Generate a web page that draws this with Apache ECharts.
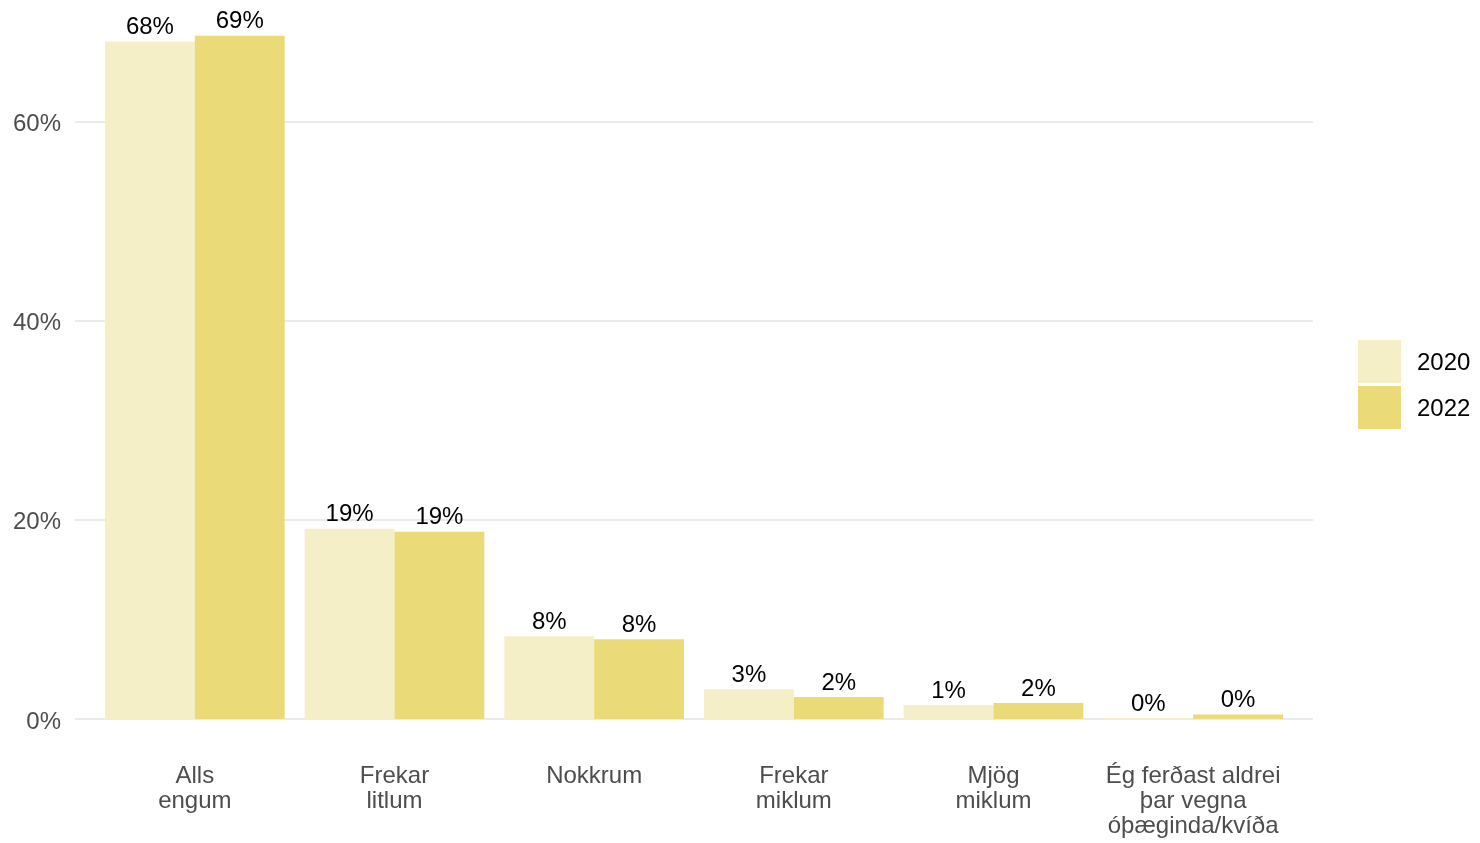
<!DOCTYPE html>
<html>
<head>
<meta charset="utf-8">
<script src="https://cdn.jsdelivr.net/npm/echarts@6/dist/echarts.min.js"></script>
<style>html,body{margin:0;padding:0;background:#fff;}#c{width:1480px;height:843px;}</style>
</head>
<body>
<div id="c"></div>
<script>
const categories = ['Alls\nengum', 'Frekar\nlitlum', 'Nokkrum', 'Frekar\nmiklum', 'Mjög\nmiklum', 'Ég ferðast aldrei\nþar vegna\nóþæginda/kvíða'];
const seriesNames = ['2020', '2022'];
const values2020 = [68.0, 19.1, 8.3, 3.0, 1.4, 0.1];
const values2022 = [68.6, 18.8, 8.0, 2.2, 1.6, 0.45];
const yTicks = [0, 20, 40, 60];

const font = 'Liberation Sans, Arial, sans-serif';
const chart = echarts.init(document.getElementById('c'), null, {renderer: 'canvas'});
const labelOpt = {
  show: true, position: 'top', distance: 2,
  fontFamily: font, fontSize: 24, color: '#000',
  formatter: p => Math.round(p.value) + '%'
};
chart.setOption({
  animation: false,
  backgroundColor: '#fff',
  textStyle: {fontFamily: font},
  legend: {
    orient: 'vertical', left: 1358, top: 340, padding: 0,
    itemWidth: 43, itemHeight: 43, itemGap: 3, icon: 'rect',
    formatter: n => '{t|' + n + '}',
    textStyle: {fontFamily: font, fontSize: 24, color: '#000',
      rich: {t: {fontFamily: font, fontSize: 24, color: '#000', padding: [4, 0, 0, 11]}}},
    data: seriesNames
  },
  grid: [
    {left: 75, right: 167, top: 2, bottom: 124},
    {left: 95, right: 187, top: 2, bottom: 124}
  ],
  xAxis: [
    {gridIndex: 0, type: 'value', show: false, min: 0, max: 1},
    {gridIndex: 1, type: 'category', data: categories,
     axisLine: {show: false}, axisTick: {show: false},
     axisLabel: {fontFamily: font, fontSize: 24, color: '#4d4d4d', margin: 45, lineHeight: 25, interval: 0}}
  ],
  yAxis: [
    {gridIndex: 0, type: 'value', min: 0, max: 72, interval: 20,
     axisLine: {show: false}, axisTick: {show: false},
     axisLabel: {fontFamily: font, fontSize: 24, color: '#4d4d4d', margin: 14, showMaxLabel: false,
       formatter: v => yTicks.includes(v) ? '{t|' + v + '%}' : '',
       rich: {t: {fontFamily: font, fontSize: 24, color: '#4d4d4d', padding: [6, 0, 0, 0]}}},
     splitLine: {show: true, showMaxLine: false, lineStyle: {color: '#ebebeb', width: 2}}},
    {gridIndex: 1, type: 'value', min: 0, max: 72, show: false, splitLine: {show: false}}
  ],
  series: [
    {name: seriesNames[0], type: 'bar', xAxisIndex: 1, yAxisIndex: 1, data: values2020,
     barGap: '0%', barCategoryGap: '10%', itemStyle: {color: '#F5EFC8'}, label: labelOpt},
    {name: seriesNames[1], type: 'bar', xAxisIndex: 1, yAxisIndex: 1, data: values2022,
     barGap: '0%', barCategoryGap: '10%', itemStyle: {color: '#EADB78'}, label: labelOpt}
  ]
});
</script>
</body>
</html>
